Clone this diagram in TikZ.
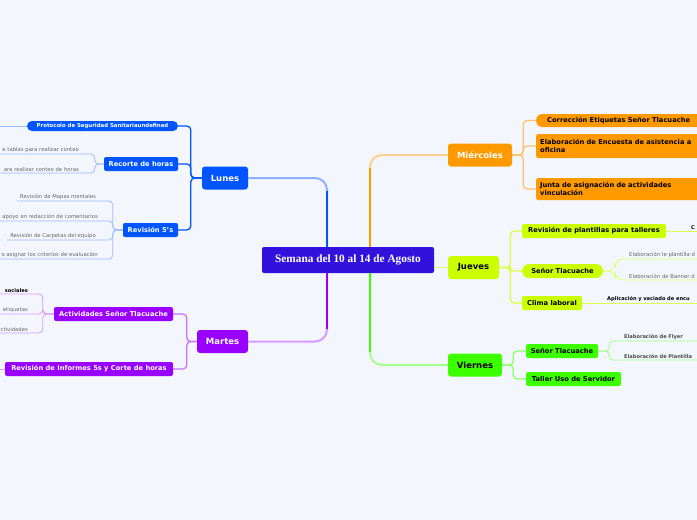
\documentclass[tikz,border=0pt]{standalone}
\usepackage{fontspec}
\setmainfont{DejaVu Sans}
\newfontfamily\tituloFont{Liberation Serif}
\usetikzlibrary{positioning}
\definecolor{fondo}{HTML}{F4F6FE}
\definecolor{central}{HTML}{3311DD}
\definecolor{azul}{HTML}{0055FF}
\definecolor{morado}{HTML}{9900FF}
\definecolor{naranja}{HTML}{FF9900}
\definecolor{limon}{HTML}{CCFF00}
\definecolor{verde}{HTML}{3CFF00}

\begin{document}
\begin{tikzpicture}[x=1pt,y=-1pt,
  dia/.style={fill=#1,rounded corners=3pt,minimum height=23pt,inner sep=0pt,font=\bfseries\fontsize{8.5}{10}\selectfont},
  tema/.style={fill=#1,rounded corners=2pt,minimum height=14pt,inner sep=0pt,font=\bfseries\fontsize{6.7}{8}\selectfont},
  hoja/.style={inner sep=1pt,font=\fontsize{5.3}{6}\selectfont,text=black!60},
  hojanegra/.style={hoja,text=black,font=\bfseries\fontsize{5.1}{6}\selectfont},
  rama/.style={line width=2pt,rounded corners=12pt},
  sub/.style={line width=1.3pt,rounded corners=4pt},
  fina/.style={line width=0.8pt,rounded corners=4pt}]
\fill[fondo] (0,0) rectangle (697,520);
\clip (0,0) rectangle (697,520);

% centro y dias
\node[fill=central,text=white,rounded corners=2pt,minimum width=172pt,minimum height=26pt,
  font=\tituloFont\bfseries\fontsize{11.3}{13}\selectfont] (semana) at (348,260) {Semana del 10 al 14 de Agosto};
\node[dia=azul,text=white,minimum width=46pt] (lunes) at (225,178) {Lunes};
\node[dia=morado,text=white,minimum width=51pt] (martes) at (222.5,341.5) {Martes};
\node[dia=naranja,text=white,minimum width=64pt] (miercoles) at (480,155) {Miércoles};
\node[dia=limon,minimum width=51pt] (jueves) at (473.5,267.5) {Jueves};
\node[dia=verde,minimum width=54pt] (viernes) at (475,365) {Viernes};

\coordinate (lunesbase) at ([xshift=-21pt]semana.north);
\coordinate (martesbase) at ([xshift=-21pt]semana.south);
\coordinate (miercolesbase) at ([xshift=22pt]semana.north);
\coordinate (viernesbase) at ([xshift=22pt]semana.south);

% Lunes
\node[tema=azul,text=white,rounded corners=5pt,minimum height=10pt,minimum width=151pt,
  font=\bfseries\fontsize{5.4}{6}\selectfont] (protocolo) at (102.5,126) {Protocolo de Seguridad Sanitariaundefined};
\node[tema=azul,text=white,minimum width=74pt] (recorte) at (141,164) {Recorte de horas};
\node[tema=azul,text=white,minimum width=55pt] (revision) at (150.5,230) {Revisión 5's};
\coordinate (protocolofin) at (0,126);

\node[hoja,anchor=south east,text width=110pt,align=right] (tablas) at (80,154) {e tablas para realizar conteo};
\node[hoja,anchor=south east,text width=110pt,align=right] (conteo) at (80,173) {ara realizar conteo de horas};
\node[hoja,anchor=south east,inner xsep=3pt] (mapas) at (99,201) {Revisión de Mapas mentales};
\node[hoja,anchor=south east,text width=120pt,align=right] (apoyo) at (99,221) {apoyo en redacción de comentarios};
\node[hoja,anchor=south east,inner xsep=3pt] (carpetas) at (99,240) {Revisión de Carpetas del equipo};
\node[hoja,anchor=south east,text width=120pt,align=right] (criterios) at (99,259) {o asignar los criterios de evaluación};

% Martes
\node[tema=morado,text=white,minimum width=119pt] (actividades) at (113.5,314) {Actividades Señor Tlacuache};
\node[tema=morado,text=white,minimum width=168pt] (informes) at (89,369) {Revisión de Informes 5s y Corte de horas};
\coordinate (informesfin) at (0,369);

\node[hojanegra,anchor=south east,text width=60pt,align=right] (sociales) at (29,294) {sociales};
\node[hoja,anchor=south east,text width=60pt,align=right] (etiquetas) at (29,314) {etiquetas};
\node[hoja,anchor=south east,text width=60pt,align=right] (ctividades) at (29,333) {ctividades};

% Miercoles
\node[tema=naranja,anchor=west,rounded corners=6pt,minimum height=13pt,text width=170pt,inner xsep=11pt,align=left] (correccion) at (536,120.5) {Corrección Etiquetas Señor Tlacuache};
\node[tema=naranja,anchor=west,minimum height=24pt,text width=170pt,inner xsep=4pt,align=left] (encuesta) at (536,146) {Elaboración de Encuesta de asistencia a\\oficina};
\node[tema=naranja,anchor=west,minimum height=22pt,text width=170pt,inner xsep=4pt,align=left] (junta) at (536,189) {Junta de asignación de actividades\\vinculación};

% Jueves
\node[tema=limon,minimum width=144pt] (plantillas) at (594,231) {Revisión de plantillas para talleres};
\node[tema=limon,minimum width=81pt,rounded corners=7pt] (senorj) at (562.5,271) {Señor Tlacuache};
\node[tema=limon,minimum width=60pt] (clima) at (552,303) {Clima laboral};

\node[hojanegra,anchor=south west,text width=40pt] (cleaf) at (690,231) {C};
\node[hoja,anchor=south west,text width=80pt] (leplantilla) at (628,259) {Elaboración le plantilla d};
\node[hoja,anchor=south west,text width=80pt] (banner) at (628,280) {Elaboración de Banner d};
\node[hojanegra,anchor=south west,text width=100pt] (aplicacion) at (606,303) {Aplicación y vaciado de encu};

% Viernes
\node[tema=verde,minimum width=72pt] (senorv) at (562,351) {Señor Tlacuache};
\node[tema=verde,minimum width=95pt] (taller) at (573.5,379) {Taller Uso de Servidor};

\node[hojanegra,text=black!70,anchor=south west,text width=80pt] (flyer) at (623,341) {Elaboración de Flyer};
\node[hojanegra,text=black!70,anchor=south west,text width=80pt] (plantillav) at (623,360) {Elaboración de Plantilla};

% ramas principales
\draw[rama,azul!45] (lunesbase) |- (lunes.east);
\draw[rama,azul,shorten >=13pt] (lunesbase) -- (lunesbase |- lunes.east);
\draw[rama,morado!40] (martesbase) |- (martes.east);
\draw[rama,morado,shorten >=13pt] (martesbase) -- (martesbase |- martes.east);
\draw[rama,naranja!45] (miercolesbase) |- (miercoles.west);
\draw[rama,naranja,shorten >=13pt] (miercolesbase) -- (miercolesbase |- miercoles.west);
\draw[rama,verde!45] (viernesbase) |- (viernes.west);
\draw[rama,verde,shorten >=13pt] (viernesbase) -- (viernesbase |- viernes.west);
\draw[line width=1.5pt,limon!60] (semana.east |- jueves.west) -- (jueves.west);

% Lunes
\draw[sub,azul] (lunes.west) -- ++(-11,0) |- (protocolo.east);
\draw[sub,azul] (lunes.west) -- ++(-11,0) |- (recorte.east);
\draw[sub,azul] (lunes.west) -- ++(-11,0) |- (revision.east);
\draw[fina,azul!40] (protocolo.west) -- (protocolofin);
\draw[fina,azul!40] (recorte.west) -- ++(-9,0) |- (tablas.south west);
\draw[fina,azul!40] (recorte.west) -- ++(-9,0) |- (conteo.south west);
\draw[fina,azul!40] (revision.west) -- ++(-10,0) |- (mapas.south west);
\draw[fina,azul!40] (revision.west) -- ++(-10,0) |- (apoyo.south west);
\draw[fina,azul!40] (revision.west) -- ++(-10,0) |- (carpetas.south west);
\draw[fina,azul!40] (revision.west) -- ++(-10,0) |- (criterios.south west);

% Martes
\draw[sub,morado!55] (martes.west) -- ++(-10,0) |- (actividades.east);
\draw[sub,morado!55] (martes.west) -- ++(-10,0) |- (informes.east);
\draw[fina,morado!40] (informes.west) -- (informesfin);
\draw[fina,morado!40] (actividades.west) -- ++(-11,0) |- (sociales.south west);
\draw[fina,morado!40] (actividades.west) -- ++(-11,0) |- (etiquetas.south west);
\draw[fina,morado!40] (actividades.west) -- ++(-11,0) |- (ctividades.south west);

% Miercoles
\draw[sub,naranja!60] (miercoles.east) -- ++(11,0) |- (correccion.west);
\draw[sub,naranja!60] (miercoles.east) -- ++(11,0) |- (encuesta.west);
\draw[sub,naranja!60] (miercoles.east) -- ++(11,0) |- (junta.west);

% Jueves
\draw[sub,limon!75] (jueves.east) -- ++(11,0) |- (plantillas.west);
\draw[sub,limon!75] (jueves.east) -- ++(11,0) |- (senorj.west);
\draw[sub,limon!75] (jueves.east) -- ++(11,0) |- (clima.west);
\draw[fina,limon!70] (plantillas.east) -- (cleaf.south east);
\draw[fina,limon!60,rounded corners=8pt] (senorj.east) -- ++(12,0) |- (leplantilla.south east);
\draw[fina,limon!60,rounded corners=8pt] (senorj.east) -- ++(12,0) |- (banner.south east);
\draw[fina,limon!70] (clima.east) -- (aplicacion.south east);

% Viernes
\draw[sub,verde!60] (viernes.east) -- ++(11,0) |- (senorv.west);
\draw[sub,verde!60] (viernes.east) -- ++(11,0) |- (taller.west);
\draw[fina,verde!50] (senorv.east) -- ++(11,0) |- (flyer.south east);
\draw[fina,verde!50] (senorv.east) -- ++(11,0) |- (plantillav.south east);
\end{tikzpicture}
\end{document}
